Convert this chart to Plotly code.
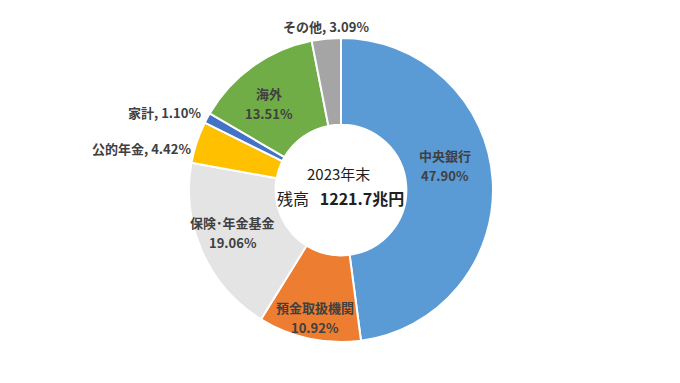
import math
import plotly.graph_objects as go

labels = ["中央銀行", "預金取扱機関", "保険･年金基金", "公的年金", "家計", "海外", "その他"]
values = [47.90, 10.92, 19.06, 4.42, 1.10, 13.51, 3.09]
colors = ["#5B9BD5", "#ED7D31", "#E4E4E4", "#FFC000", "#4472C4", "#70AD47", "#A5A5A5"]
positions = ["inside", "inside", "inside", "outside", "outside", "inside", "outside"]
center_year = "2023年末"
center_total = "1221.7兆円"

# label placement style: radial distance (px) and angular nudge (deg) from slice mid angle
label_radius = [107, 130, 116, 154, 158, 113, 164]
label_nudge = [-9.2, -0.5, 2.6, -2.5, 1.2, -4.3, 0.2]

W, H = 680, 383
OFF = 8  # page body margin
cx, cy, r = 341 - OFF, 190 - OFF, 152
hole = 0.43
font_fam = "Noto Sans CJK JP"
lab_color = "#404040"

fig = go.Figure(go.Pie(
    labels=labels,
    values=values,
    textinfo="none",
    sort=False,
    direction="clockwise",
    rotation=0,
    hole=hole,
    marker=dict(colors=colors, line=dict(color="white", width=2)),
    domain=dict(x=[(cx - r) / W, (cx + r) / W], y=[(H - cy - r) / H, (H - cy + r) / H]),
    showlegend=False,
    hoverinfo="label+percent",
))

# data labels placed around each slice's mid angle
total = sum(values)
cum = 0.0
for lab, v, p, rho, nd in zip(labels, values, positions, label_radius, label_nudge):
    mid = (cum + v / 2) / total * 2 * math.pi + math.radians(nd)
    cum += v
    s, c = math.sin(mid), math.cos(mid)
    px, py = cx + rho * s, cy - rho * c
    if p == "inside":
        for txt, dy in ((lab, -10), (f"{v:.2f}%", 10)):
            fig.add_annotation(x=px / W, y=1 - (py + dy) / H, xref="paper", yref="paper",
                               text=f"<b>{txt}</b>", showarrow=False,
                               xanchor="center", yanchor="middle",
                               font=dict(family=font_fam, size=13, color=lab_color))
    else:
        if abs(s) < 0.3:
            xa = "center"
        else:
            xa = "left" if s > 0 else "right"
        fig.add_annotation(x=px / W, y=1 - py / H, xref="paper", yref="paper",
                           text=f"<b>{lab}, {v:.2f}%</b>", showarrow=False,
                           xanchor=xa, yanchor="middle",
                           font=dict(family=font_fam, size=13, color=lab_color))

fig.add_annotation(x=(338 - OFF) / W, y=1 - (173 - OFF) / H, xref="paper", yref="paper", text=center_year,
                   showarrow=False, xanchor="center", yanchor="middle",
                   font=dict(family=font_fam, size=15, color="#202020"))
fig.add_annotation(x=(340 - OFF) / W, y=1 - (198 - OFF) / H, xref="paper", yref="paper",
                   text=f"残高&nbsp;&nbsp;&nbsp;<b>{center_total}</b>", showarrow=False,
                   xanchor="center", yanchor="middle",
                   font=dict(family=font_fam, size=16, color="#202020"))

fig.update_layout(width=W, height=H, margin=dict(l=0, r=0, t=0, b=0),
                  paper_bgcolor="white", plot_bgcolor="white")
fig.write_html("out.html")
